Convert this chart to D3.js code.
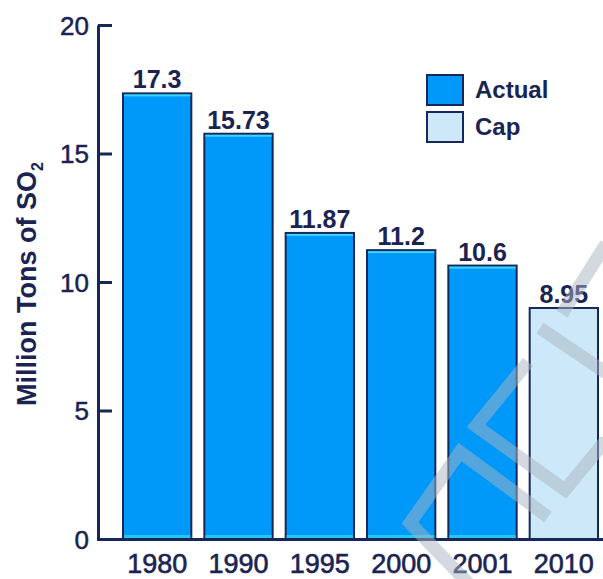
<!DOCTYPE html>
<html>
<head>
<meta charset="utf-8">
<script src="https://cdn.jsdelivr.net/npm/d3@7"></script>
<style>
  html, body { margin: 0; padding: 0; background: #fff; }
  #chart-container { width: 603px; height: 579px; }
  text { font-family: "Liberation Sans", Arial, Helvetica, sans-serif; fill: #1b2352; }
</style>
</head>
<body>
<div id="chart-container"></div>
<script>
// data
let years = ["1980", "1990", "1995", "2000", "2001", "2010"],
    values = [17.3, 15.73, 11.87, 11.2, 10.6, 8.95],
    kinds = ["Actual", "Actual", "Actual", "Actual", "Actual", "Cap"],
    valueLabels = ["17.3", "15.73", "11.87", "11.2", "10.6", "8.95"],
    yTicks = [0, 5, 10, 15, 20],
    legendItems = ["Actual", "Cap"];

let containerId = 'chart-container',
    svg = d3.select(`#${containerId}`).append("svg").attr("width", 603).attr("height", 579),
    navy = "#16275a";

let data = years.map(function (y, i) { return { year: y, value: values[i], kind: kinds[i], label: valueLabels[i] }; });

let x = d3.scaleBand().domain(years).range([123, 598]).paddingInner(0.16).paddingOuter(0).align(0),
    y = d3.scaleLinear().domain([0, 20]).range([539, 25]),
    color = d3.scaleOrdinal().domain(legendItems).range(["#0099fa", "#cde9f9"]);

svg.append("rect").attr("width", 603).attr("height", 579).attr("fill", "#fff");

// bars
let bars = svg.append("g").selectAll("g").data(data).enter().append("g");

bars.append("rect")
    .attr("x", function (d) { return x(d.year); })
    .attr("y", function (d) { return y(d.value) - 1; })
    .attr("width", x.bandwidth())
    .attr("height", function (d) { return y(0) - y(d.value) + 1; })
    .attr("fill", function (d) { return color(d.kind); })
    .attr("stroke", navy)
    .attr("stroke-width", 2);

// light highlight just inside the top and bottom edges of the actual bars
bars.filter(function (d) { return d.kind === "Actual"; })
    .append("rect")
    .attr("x", function (d) { return x(d.year) + 1; })
    .attr("y", function (d) { return y(d.value); })
    .attr("width", x.bandwidth() - 2)
    .attr("height", 2)
    .attr("fill", "#3fd2ff");

bars.filter(function (d) { return d.kind === "Actual"; })
    .append("rect")
    .attr("x", function (d) { return x(d.year) + 1; })
    .attr("y", y(0) - 4)
    .attr("width", x.bandwidth() - 2)
    .attr("height", 3)
    .attr("fill", "#22c8ee");

bars.append("text")
    .attr("x", function (d) { return x(d.year) + x.bandwidth() / 2; })
    .attr("y", function (d) { return y(d.value) - 6; })
    .attr("text-anchor", "middle")
    .attr("font-size", 25)
    .attr("font-weight", "bold")
    .text(function (d) { return d.label; });

// baseline
svg.append("line")
    .attr("x1", 97).attr("x2", 603)
    .attr("y1", y(0) + 0.5).attr("y2", y(0) + 0.5)
    .attr("stroke", navy)
    .attr("stroke-width", 3);

// y axis: ticks point inward, labels outside
let yAxis = svg.append("g")
    .attr("transform", "translate(98,0)")
    .call(d3.axisLeft(y).tickValues(yTicks).tickSizeInner(-14).tickSizeOuter(0).tickPadding(10));

yAxis.select(".domain").attr("stroke", navy).attr("stroke-width", 3);
yAxis.selectAll(".tick line").attr("stroke", navy).attr("stroke-width", 3);
yAxis.selectAll(".tick text")
    .attr("font-size", 26)
    .attr("font-family", null)
    .attr("fill", null)
    .attr("stroke", "#1b2352")
    .attr("stroke-width", 0.5)
    .attr("dy", "0.36em")
    .attr("x", -9);

// x axis labels
let xAxis = svg.append("g")
    .attr("transform", "translate(0,541)")
    .call(d3.axisBottom(x).tickSize(0).tickPadding(0));

xAxis.select(".domain").remove();
xAxis.selectAll(".tick text")
    .attr("font-size", 27)
    .attr("font-family", null)
    .attr("fill", null)
    .attr("stroke", "#1b2352")
    .attr("stroke-width", 0.6)
    .attr("dy", null)
    .attr("y", 32);

// y title
let title = svg.append("text")
    .attr("transform", "translate(36,284)rotate(-90)")
    .attr("text-anchor", "middle")
    .attr("font-size", 27)
    .attr("font-weight", "bold");
title.append("tspan").text("Million Tons of SO");
title.append("tspan").attr("font-size", 16).attr("dy", 7).text("2");

// legend
let legend = svg.append("g").selectAll("g").data(legendItems).enter().append("g")
    .attr("transform", function (d, i) { return `translate(427,${75 + i * 37})`; });

legend.append("rect")
    .attr("width", 36)
    .attr("height", 30)
    .attr("fill", function (d) { return color(d); })
    .attr("stroke", navy)
    .attr("stroke-width", 2);

legend.append("text")
    .attr("x", 48)
    .attr("y", 23)
    .attr("font-size", 24)
    .attr("font-weight", "bold")
    .text(function (d) { return d; });

// faint watermark strokes over the lower right
let mark = svg.append("g")
    .attr("fill", "none")
    .attr("stroke", "rgba(170,180,192,0.5)")
    .attr("stroke-width", 13)
    .attr("stroke-linejoin", "miter");

mark.append("path").attr("d", "M470,585L410,523L460,452L548,517");
mark.append("path").attr("d", "M528,362L476,426L565,490L606,440");
mark.append("path").attr("d", "M540,328L606,373");
mark.append("path").attr("d", "M606,244L562,314");
</script>
</body>
</html>
